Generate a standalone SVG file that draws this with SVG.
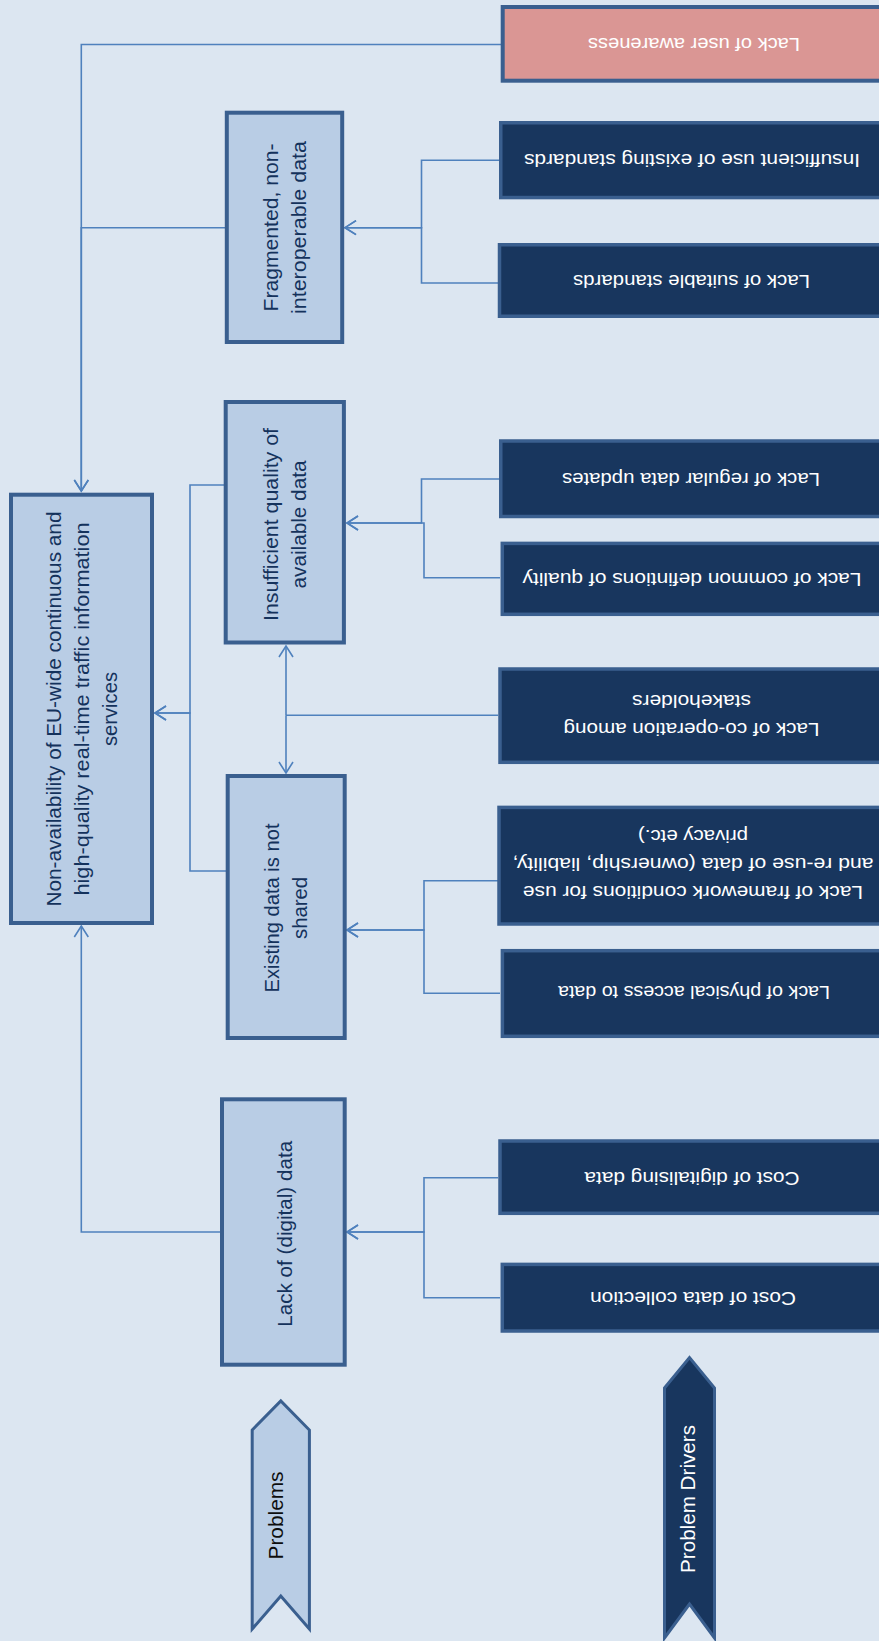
<svg xmlns="http://www.w3.org/2000/svg" width="879" height="1641" viewBox="0 0 879 1641">
<style>
.bg{fill:#DCE6F1}
.prob{fill:#B9CDE5;stroke:#3A5F8F;stroke-width:4}
.drv{fill:#18365E;stroke:#3A5F8F;stroke-width:3.5}
.aware{fill:#DA9694;stroke:#3A5F8F;stroke-width:4}
.pt{font-family:"Liberation Sans",Arial,sans-serif;font-size:20px;fill:#14325C;text-anchor:middle;dominant-baseline:central}
.dt{font-family:"Liberation Sans",Arial,sans-serif;font-size:18px;fill:#FFFFFF;text-anchor:middle;dominant-baseline:central}
.at{font-family:"Liberation Sans",Arial,sans-serif;font-size:18px;fill:#FFFFFF;text-anchor:middle;dominant-baseline:central}
.conn{fill:none;stroke:#4F81BD;stroke-width:1.6}
</style>
<defs>
<marker id="arr" markerUnits="userSpaceOnUse" markerWidth="24" markerHeight="24" refX="0" refY="0" orient="auto" overflow="visible">
<path d="M-11,-7 L0,0 L-11,7" fill="none" stroke="#4F81BD" stroke-width="1.6"/>
</marker>
</defs>
<rect class="bg" x="0" y="0" width="879" height="1641"/>

<g id="connectors">
<path class="conn" d="M501,44.5 H81.3 V491" marker-end="url(#arr)"/>
<path class="conn" d="M225,227.7 H81.3 V491" marker-end="url(#arr)"/>
<path class="conn" d="M220,1232 H81.3 V926" marker-end="url(#arr)"/>
<path class="conn" d="M224,485 H190 V713 H155" marker-end="url(#arr)"/>
<path class="conn" d="M226,871 H190 V713 H155" marker-end="url(#arr)"/>
<path class="conn" d="M499,160.3 H421.5 V227.7 H345" marker-end="url(#arr)"/>
<path class="conn" d="M499,283 H421.5 V227.7 H345" marker-end="url(#arr)"/>
<path class="conn" d="M499,479 H421.5 V523 H347" marker-end="url(#arr)"/>
<path class="conn" d="M500,577.7 H424 V523 H347" marker-end="url(#arr)"/>
<path class="conn" d="M498,715.3 H286"/>
<path class="conn" d="M286,715.3 V646" marker-end="url(#arr)"/>
<path class="conn" d="M286,715.3 V773" marker-end="url(#arr)"/>
<path class="conn" d="M498,880.7 H424 V930 H347" marker-end="url(#arr)"/>
<path class="conn" d="M500,993.3 H424 V930 H347" marker-end="url(#arr)"/>
<path class="conn" d="M498,1177.7 H424 V1232 H347" marker-end="url(#arr)"/>
<path class="conn" d="M500,1297.7 H424 V1232 H347" marker-end="url(#arr)"/>
</g>

<g id="non-availability">
<rect class="prob" x="11" y="494.7" width="141" height="428.3"/>
<g transform="rotate(-90 81.5 709)">
<text class="pt" x="81.5" y="681" textLength="395" lengthAdjust="spacingAndGlyphs">Non-availability of EU-wide continuous and</text>
<text class="pt" x="81.5" y="709" textLength="373" lengthAdjust="spacingAndGlyphs">high-quality real-time traffic information</text>
<text class="pt" x="81.5" y="737" textLength="74" lengthAdjust="spacingAndGlyphs">services</text>
</g>
</g>

<g id="fragmented">
<rect class="prob" x="226.8" y="112.7" width="115.4" height="229.3"/>
<g transform="rotate(-90 284.5 227.5)">
<text class="pt" x="284.5" y="213.5" textLength="168" lengthAdjust="spacingAndGlyphs">Fragmented, non-</text>
<text class="pt" x="284.5" y="241.5" textLength="173" lengthAdjust="spacingAndGlyphs">interoperable data</text>
</g>
</g>

<g id="insufficient-quality">
<rect class="prob" x="225.7" y="402" width="118.2" height="240.5"/>
<g transform="rotate(-90 284.8 524.5)">
<text class="pt" x="284.8" y="510.5" textLength="193" lengthAdjust="spacingAndGlyphs">Insufficient quality of</text>
<text class="pt" x="284.8" y="538.5" textLength="128" lengthAdjust="spacingAndGlyphs">available data</text>
</g>
</g>

<g id="existing-not-shared">
<rect class="prob" x="227.7" y="776" width="117" height="262"/>
<g transform="rotate(-90 286 908)">
<text class="pt" x="286" y="894" textLength="169" lengthAdjust="spacingAndGlyphs">Existing data is not</text>
<text class="pt" x="286" y="922" textLength="62" lengthAdjust="spacingAndGlyphs">shared</text>
</g>
</g>

<g id="lack-digital">
<rect class="prob" x="222" y="1099.3" width="122.7" height="265.4"/>
<g transform="rotate(-90 285 1233.8)">
<text class="pt" x="285" y="1233.8" textLength="186" lengthAdjust="spacingAndGlyphs">Lack of (digital) data</text>
</g>
</g>

<g id="user-awareness">
<rect class="aware" x="502.7" y="7" width="385" height="73.7"/>
<text class="at" x="694" y="44" transform="rotate(180 694 44)" textLength="212" lengthAdjust="spacingAndGlyphs">Lack of user awareness</text>
</g>

<g id="insufficient-use">
<rect class="drv" x="500.75" y="122.75" width="385" height="74.8"/>
<text class="dt" x="692" y="160.2" transform="rotate(180 692 160.2)" textLength="336" lengthAdjust="spacingAndGlyphs">Insufficient use of existing standards</text>
</g>

<g id="suitable-standards">
<rect class="drv" x="499.5" y="244.75" width="385" height="71.5"/>
<text class="dt" x="691.5" y="281" transform="rotate(180 691.5 281)" textLength="237" lengthAdjust="spacingAndGlyphs">Lack of suitable standards</text>
</g>

<g id="regular-updates">
<rect class="drv" x="500.75" y="441" width="385" height="75.5"/>
<text class="dt" x="691" y="478.8" transform="rotate(180 691 478.8)" textLength="258" lengthAdjust="spacingAndGlyphs">Lack of regular data updates</text>
</g>

<g id="common-definitions">
<rect class="drv" x="502.3" y="543.4" width="385" height="70.9"/>
<text class="dt" x="692" y="578.8" transform="rotate(180 692 578.8)" textLength="339" lengthAdjust="spacingAndGlyphs">Lack of common defintions of quality</text>
</g>

<g id="co-operation">
<rect class="drv" x="500" y="669" width="385" height="93.3"/>
<g transform="rotate(180 691.5 715)">
<text class="dt" x="691.5" y="701.5" textLength="256" lengthAdjust="spacingAndGlyphs">Lack of co-operation among</text>
<text class="dt" x="691.5" y="729.5" textLength="119" lengthAdjust="spacingAndGlyphs">stakeholders</text>
</g>
</g>

<g id="framework-conditions">
<rect class="drv" x="499" y="807.4" width="385" height="116.6"/>
<g transform="rotate(180 693 864.5)">
<text class="dt" x="693" y="837" textLength="340" lengthAdjust="spacingAndGlyphs">Lack of framework conditions for use</text>
<text class="dt" x="693" y="865.5" textLength="361" lengthAdjust="spacingAndGlyphs">and re-use of data (ownership, liability,</text>
<text class="dt" x="693" y="893" textLength="110" lengthAdjust="spacingAndGlyphs">privacy etc.)</text>
</g>
</g>

<g id="physical-access">
<rect class="drv" x="502.4" y="950.7" width="385" height="85.6"/>
<text class="dt" x="694" y="992" transform="rotate(180 694 992)" textLength="272" lengthAdjust="spacingAndGlyphs">Lack of physical access to data</text>
</g>

<g id="digitalising">
<rect class="drv" x="500" y="1141" width="385" height="72.3"/>
<text class="dt" x="692" y="1177.5" transform="rotate(180 692 1177.5)" textLength="215" lengthAdjust="spacingAndGlyphs">Cost of digitalising data</text>
</g>

<g id="data-collection">
<rect class="drv" x="502.3" y="1264.4" width="385" height="66.6"/>
<text class="dt" x="693" y="1297.5" transform="rotate(180 693 1297.5)" textLength="206" lengthAdjust="spacingAndGlyphs">Cost of data collection</text>
</g>

<g id="problems-label">
<path d="M252.2,1430 L280.8,1401 L309.4,1430 L309.4,1629 L280.8,1596 L252.2,1629 Z" fill="#B9CDE5" stroke="#3A5F8F" stroke-width="3"/>
<text x="276" y="1515.5" transform="rotate(-90 276 1515.5)" font-family="Liberation Sans, Arial, sans-serif" font-size="20" fill="#0D0D0D" text-anchor="middle" dominant-baseline="central" textLength="88" lengthAdjust="spacingAndGlyphs">Problems</text>
</g>

<g id="drivers-label">
<path d="M664.5,1388 L689.5,1357.5 L714.5,1388 L714.5,1638 L689.5,1604 L664.5,1638 Z" fill="#18365E" stroke="#3A5F8F" stroke-width="3"/>
<text x="688" y="1499" transform="rotate(-90 688 1499)" font-family="Liberation Sans, Arial, sans-serif" font-size="20" fill="#FFFFFF" text-anchor="middle" dominant-baseline="central" textLength="148" lengthAdjust="spacingAndGlyphs">Problem Drivers</text>
</g>
</svg>
